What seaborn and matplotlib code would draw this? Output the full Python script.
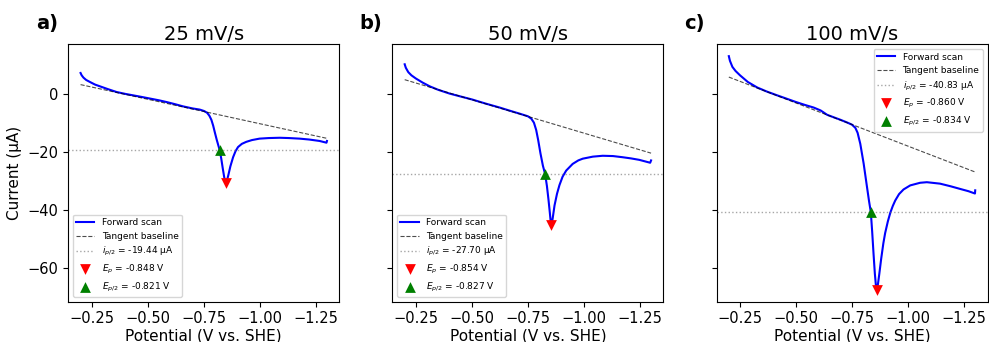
import matplotlib
matplotlib.use('Agg')
import matplotlib.pyplot as plt
from matplotlib.ticker import MultipleLocator
import seaborn as sns

rates = ['25 mV/s', '50 mV/s', '100 mV/s']
panels = ['a)', 'b)', 'c)']

# forward scans (V vs. SHE, uA)
pot_25 = [-0.200, -0.205, -0.213, -0.225, -0.242, -0.265, -0.287, -0.320, -0.361, -0.400,
          -0.435, -0.470, -0.510, -0.550, -0.584, -0.620, -0.658, -0.700, -0.732, -0.752,
          -0.765, -0.775, -0.784, -0.792, -0.800, -0.808, -0.815, -0.821, -0.828, -0.835,
          -0.841, -0.845, -0.848, -0.851, -0.855, -0.860, -0.869, -0.881, -0.892, -0.903,
          -0.920, -0.940, -0.965, -0.999, -1.040, -1.089, -1.130, -1.178, -1.220, -1.267,
          -1.298, -1.300]
cur_25 = [7.1, 6.3, 5.5, 4.7, 4.0, 3.1, 2.5, 1.6, 0.55, -0.1,
          -0.6, -1.1, -1.7, -2.3, -2.9, -3.6, -4.4, -5.1, -5.5, -6.0,
          -6.6, -7.6, -9.0, -11.0, -13.5, -15.9, -17.8, -19.44, -22.3, -25.8,
          -28.6, -30.1, -30.9, -30.5, -29.5, -28.0, -25.0, -21.9, -19.8, -18.4,
          -17.3, -16.6, -16.0, -15.5, -15.3, -15.2, -15.3, -15.5, -15.8, -16.3,
          -16.9, -16.3]

pot_50 = [-0.200, -0.205, -0.216, -0.230, -0.250, -0.280, -0.312, -0.350, -0.401, -0.450,
          -0.500, -0.560, -0.624, -0.670, -0.713, -0.750, -0.765, -0.777, -0.787, -0.796,
          -0.806, -0.817, -0.827, -0.835, -0.842, -0.848, -0.852, -0.854, -0.857, -0.861,
          -0.869, -0.880, -0.891, -0.905, -0.921, -0.950, -0.975, -0.995, -1.040, -1.084,
          -1.130, -1.173, -1.210, -1.247, -1.296, -1.300]
cur_50 = [10.1, 8.9, 7.4, 6.3, 5.2, 3.8, 2.5, 1.3, 0.0, -1.0,
          -2.0, -3.4, -4.8, -5.9, -6.9, -7.8, -8.6, -10.0, -12.5, -16.0,
          -20.5, -24.8, -27.70, -31.8, -36.5, -41.0, -44.2, -45.1, -44.6, -42.8,
          -38.5, -34.5, -31.5, -28.6, -26.5, -24.2, -23.0, -22.4, -21.7, -21.4,
          -21.5, -21.9, -22.3, -22.8, -23.8, -23.0]

pot_100 = [-0.200, -0.205, -0.216, -0.230, -0.250, -0.285, -0.327, -0.370, -0.416, -0.460,
           -0.500, -0.540, -0.579, -0.610, -0.639, -0.670, -0.698, -0.730, -0.750, -0.765,
           -0.775, -0.787, -0.802, -0.817, -0.826, -0.834, -0.840, -0.846, -0.852, -0.857,
           -0.860, -0.863, -0.866, -0.872, -0.880, -0.890, -0.898, -0.910, -0.921, -0.932,
           -0.943, -0.960, -0.980, -1.010, -1.054, -1.084, -1.143, -1.190, -1.232, -1.270,
           -1.299, -1.300]
cur_100 = [12.9, 11.3, 9.2, 7.8, 6.3, 4.0, 2.1, 0.7, -0.6, -1.8,
           -2.9, -3.9, -4.8, -5.8, -7.3, -8.2, -9.0, -10.0, -10.7, -11.8,
           -13.5, -17.3, -24.1, -32.2, -37.0, -40.83, -47.5, -55.0, -62.0, -66.3,
           -67.6, -67.0, -65.5, -62.0, -57.0, -51.5, -48.0, -44.0, -41.0, -38.7,
           -36.8, -34.6, -33.0, -31.6, -30.7, -30.5, -31.0, -31.9, -32.8, -33.6,
           -34.4, -33.3]

# tangent baselines (end points)
base_pot = [-0.2, -1.3]
base_25 = [3.1, -15.4]
base_50 = [4.8, -20.5]
base_100 = [5.7, -27.0]

ip_half = [-19.44, -27.70, -40.83]
ep = [-0.848, -0.854, -0.860]
ip_peak = [-30.9, -45.1, -67.6]
ep_half = [-0.821, -0.827, -0.834]

pots = [pot_25, pot_50, pot_100]
curs = [cur_25, cur_50, cur_100]
bases = [base_25, base_50, base_100]
legend_loc = ['lower left', 'lower left', 'upper right']

fig, axes = plt.subplots(1, 3, figsize=(9.89, 3.42), dpi=100, sharey=True)
fig.subplots_adjust(left=0.069, right=0.9985, bottom=0.118, top=0.870, wspace=0.196)

for i, ax in enumerate(axes):
    sns.lineplot(x=pots[i], y=curs[i], ax=ax, color='blue', lw=1.5, sort=False,
                 label='Forward scan')
    sns.lineplot(x=base_pot, y=bases[i], ax=ax, color='black', lw=0.8, ls='--',
                 alpha=0.7, sort=False, label='Tangent baseline')
    ax.axhline(ip_half[i], color='gray', ls=':', lw=1, alpha=0.7,
               label=f'$i_{{p/2}}$ = {ip_half[i]:.2f} µA')
    sns.scatterplot(x=[ep[i]], y=[ip_peak[i]], ax=ax, marker='v', color='red', s=60,
                    linewidth=0, zorder=5, label=f'$E_p$ = {ep[i]:.3f} V')
    sns.scatterplot(x=[ep_half[i]], y=[ip_half[i]], ax=ax, marker='^', color='green', s=60,
                    linewidth=0, zorder=5, label=f'$E_{{p/2}}$ = {ep_half[i]:.3f} V')

    ax.invert_xaxis()
    ax.xaxis.set_major_locator(MultipleLocator(0.25))
    ax.yaxis.set_major_locator(MultipleLocator(20))
    ax.tick_params(labelsize=10.5)
    ax.set_title(rates[i], fontsize=14, pad=3)
    ax.set_xlabel('Potential (V vs. SHE)', fontsize=11, labelpad=1.5)
    ax.text(-0.12, 1.06, panels[i], transform=ax.transAxes, fontsize=14,
            fontweight='bold', va='baseline')
    ax.legend(loc=legend_loc[i], fontsize=6.5)

axes[0].set_ylabel('Current (µA)', fontsize=11)

fig.savefig('out.png', dpi=100)
